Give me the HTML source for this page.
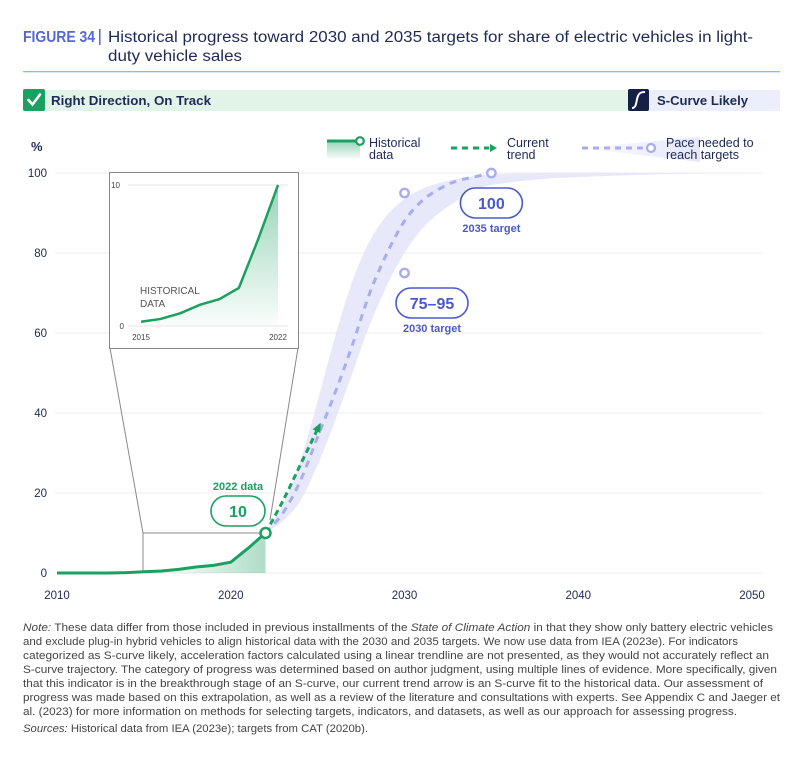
<!DOCTYPE html>
<html><head><meta charset="utf-8">
<style>
html,body{margin:0;padding:0;background:#fff;}
svg{display:block;font-family:"Liberation Sans",sans-serif;}
</style></head>
<body>
<svg id="chart" width="800" height="762" viewBox="0 0 800 762" xmlns="http://www.w3.org/2000/svg">
<defs>
<linearGradient id="gfill" x1="0" y1="0" x2="0" y2="1">
<stop offset="0" stop-color="#1aa060" stop-opacity="0.45"/>
<stop offset="1" stop-color="#1aa060" stop-opacity="0.02"/>
</linearGradient>
<linearGradient id="gfillH" x1="0" y1="0" x2="1" y2="0">
<stop offset="0" stop-color="#1aa060" stop-opacity="0"/>
<stop offset="0.6" stop-color="#1aa060" stop-opacity="0.08"/>
<stop offset="1" stop-color="#1aa060" stop-opacity="0.35"/>
</linearGradient>
<linearGradient id="legBand" x1="0" y1="0" x2="1" y2="0">
<stop offset="0" stop-color="#dfe1f9" stop-opacity="0.1"/>
<stop offset="1" stop-color="#dfe1f9" stop-opacity="0.8"/>
</linearGradient>
</defs>

<!-- Title -->
<text x="23" y="42" font-size="15.5" font-weight="bold" fill="#5766d6" textLength="72" lengthAdjust="spacingAndGlyphs">FIGURE 34</text>
<rect x="99" y="29" width="1.5" height="16" fill="#5766d6"/>
<text font-size="15.5" fill="#1e2a55">
<tspan x="108" y="42" textLength="645" lengthAdjust="spacingAndGlyphs">Historical progress toward 2030 and 2035 targets for share of electric vehicles in light-</tspan>
<tspan x="108" y="61" textLength="134" lengthAdjust="spacingAndGlyphs">duty vehicle sales</tspan>
</text>
<rect x="23" y="71" width="757" height="1.3" fill="#8db8ea"/>

<!-- Status bar -->
<rect x="23" y="90" width="757" height="21" fill="#e2f3e9"/>
<rect x="23" y="89" width="22" height="22" rx="2" fill="#1aa060"/>
<path d="M28.5 100 L32.5 104.5 L40 94.5" stroke="#fff" stroke-width="2.6" fill="none" stroke-linecap="round"/>
<text x="51" y="105" font-size="13" font-weight="bold" fill="#1e2a55" textLength="160" lengthAdjust="spacingAndGlyphs">Right Direction, On Track</text>
<rect x="628" y="90" width="152" height="21" fill="#eceefb"/>
<rect x="628" y="89" width="21" height="22" rx="2" fill="#152046"/>
<path d="M632 108 C637 108 636 100 638 96 C639 93 641 92 645 92" stroke="#fff" stroke-width="2" fill="none"/>
<text x="657" y="105" font-size="13" font-weight="bold" fill="#1e2a55" textLength="91" lengthAdjust="spacingAndGlyphs">S-Curve Likely</text>

<!-- Legend -->
<g>
<g>
<rect x="327" y="141" width="33" height="18" fill="url(#gfill)"/>
<line x1="327" y1="141" x2="357" y2="141" stroke="#1aa060" stroke-width="3"/>
<circle cx="360" cy="141" r="3.8" fill="#fff" stroke="#1aa060" stroke-width="2.2"/>
<text x="369" y="147" font-size="12.5" fill="#1e2a55">Historical</text>
<text x="369" y="159" font-size="12.5" fill="#1e2a55">data</text>
</g>
<g>
<line x1="451" y1="148" x2="489" y2="148" stroke="#1aa060" stroke-width="3" stroke-dasharray="6,5"/>
<path d="M490 144 L497 148 L490 152 Z" fill="#1aa060"/>
<text x="507" y="147" font-size="12.5" fill="#1e2a55">Current</text>
<text x="507" y="159" font-size="12.5" fill="#1e2a55">trend</text>
</g>
<g>
<path d="M578 148 L700 137 L700 162 Z" fill="url(#legBand)"/>
<line x1="582" y1="148" x2="645" y2="148" stroke="#a9aeea" stroke-width="3" stroke-dasharray="6,5"/>
<circle cx="651" cy="148" r="4" fill="#fff" stroke="#a9aeea" stroke-width="2.2"/>
<text x="666" y="147" font-size="12.5" fill="#1e2a55">Pace needed to</text>
<text x="666" y="159" font-size="12.5" fill="#1e2a55">reach targets</text>
</g>
</g>

<text x="31" y="151" font-size="13" font-weight="bold" fill="#1e2a55">%</text>

<g id="grid"></g>
<g id="marks"></g>

<!-- Note -->
<g font-size="11" fill="#444">
<text x="23" y="631" textLength="750" lengthAdjust="spacingAndGlyphs"><tspan font-style="italic">Note:</tspan> These data differ from those included in previous installments of the <tspan font-style="italic">State of Climate Action</tspan> in that they show only battery electric vehicles</text>
<text x="23" y="645" textLength="715" lengthAdjust="spacingAndGlyphs">and exclude plug-in hybrid vehicles to align historical data with the 2030 and 2035 targets. We now use data from IEA (2023e). For indicators</text>
<text x="23" y="659" textLength="746" lengthAdjust="spacingAndGlyphs">categorized as S-curve likely, acceleration factors calculated using a linear trendline are not presented, as they would not accurately reflect an</text>
<text x="23" y="673" textLength="754" lengthAdjust="spacingAndGlyphs">S-curve trajectory. The category of progress was determined based on author judgment, using multiple lines of evidence. More specifically, given</text>
<text x="23" y="687" textLength="740" lengthAdjust="spacingAndGlyphs">that this indicator is in the breakthrough stage of an S-curve, our current trend arrow is an S-curve fit to the historical data. Our assessment of</text>
<text x="23" y="701" textLength="757" lengthAdjust="spacingAndGlyphs">progress was made based on this extrapolation, as well as a review of the literature and consultations with experts. See Appendix C and Jaeger et</text>
<text x="23" y="715" textLength="714" lengthAdjust="spacingAndGlyphs">al. (2023) for more information on methods for selecting targets, indicators, and datasets, as well as our approach for assessing progress.</text>
<text x="23" y="732" textLength="345" lengthAdjust="spacingAndGlyphs"><tspan font-style="italic">Sources:</tspan> Historical data from IEA (2023e); targets from CAT (2020b).</text>
</g>

<script>
const histYears = [2010,2011,2012,2013,2014,2015,2016,2017,2018,2019,2020,2021,2022];
const histValues = [0,0,0,0,0.1,0.3,0.5,0.9,1.5,1.9,2.7,6.2,10];
const trendYears = [2022,2023,2024,2025];
const trendValues = [10,18,27,36];
const paceYears = [2022,2023,2024,2025,2026,2027,2028,2029,2030,2031,2032,2033,2034,2035];
const paceValues = [10,15,23,34,45,57,70,80,88,93,96,98,99,100];
const bandYears = [2022,2023,2024,2025,2026,2027,2028,2029,2030,2031,2032,2033,2034,2035,2038,2042,2046,2050];
const bandUpper = [10,17,28,43,59,73,83,89.5,93.5,96,97.5,98.5,99.2,99.6,100,100,100,100];
const bandLower = [10,13,18,27,38,50,62,72,80,86,90,93,95.5,97,98.5,99.3,99.8,100];
const targetYears = [2030,2030,2035];
const targetValues = [75,95,100];
const yTicks = [0,20,40,60,80,100];
const xTicks = [2010,2020,2030,2040,2050];
const insetYTicks = [0,10];
const insetXTicks = [2015,2022];

const NS = "http://www.w3.org/2000/svg";
const xS = y => 57 + (y - 2010) * (752 - 57) / 40;
const yS = v => 573 - v * 4;
const ixS = y => 141 + (y - 2015) * (278 - 141) / 7;
const iyS = v => 326 - v * (326 - 185) / 10;

function mk(tag, attrs, parent, text) {
  const e = document.createElementNS(NS, tag);
  for (const k in attrs) e.setAttribute(k, attrs[k]);
  if (text !== undefined) e.textContent = text;
  parent.appendChild(e);
  return e;
}
function smooth(pts) {
  let d = "M" + pts[0][0] + " " + pts[0][1];
  for (let i = 0; i < pts.length - 1; i++) {
    const p0 = pts[Math.max(0, i - 1)], p1 = pts[i], p2 = pts[i + 1], p3 = pts[Math.min(pts.length - 1, i + 2)];
    const c1x = p1[0] + (p2[0] - p0[0]) / 6, c1y = p1[1] + (p2[1] - p0[1]) / 6;
    const c2x = p2[0] - (p3[0] - p1[0]) / 6, c2y = p2[1] - (p3[1] - p1[1]) / 6;
    d += " C" + c1x + " " + c1y + " " + c2x + " " + c2y + " " + p2[0] + " " + p2[1];
  }
  return d;
}

const grid = document.getElementById("grid");
const marks = document.getElementById("marks");

yTicks.forEach(t => {
  const gl = mk("line", {x1: 55, x2: 762, y1: yS(t), y2: yS(t), stroke: "#ececec", "stroke-width": 1}, grid);
  
  
  const tl = mk("text", {x: 47, y: yS(t) + 4, "text-anchor": "end", "font-size": 11.5, fill: "#1e2a55"}, grid, String(t));
  
  
});
xTicks.forEach(t => {
  const tl = mk("text", {x: xS(t), y: 599, "text-anchor": "middle", "font-size": 11.5, fill: "#1e2a55"}, grid, String(t));
  
  
});

// band
const upPts = bandYears.map((y, i) => [xS(y), yS(bandUpper[i])]);
const loPts = bandYears.map((y, i) => [xS(y), yS(bandLower[i])]).reverse();
const bandD = smooth(upPts) + " L" + loPts[0][0] + " " + loPts[0][1] + smooth(loPts).replace(/^M[^C]*/, "") + " Z";
const band = mk("path", {d: bandD, fill: "#e4e6fa", opacity: 0.9}, marks);



// pace dashed
const pace = mk("path", {d: smooth(paceYears.map((y, i) => [xS(y), yS(paceValues[i])])), fill: "none", stroke: "#a9aeea", "stroke-width": 3, "stroke-dasharray": "7,6"}, marks);



// zoom funnel
const funnel = mk("path", {d: "M110 348 L143 533 L143 573 M298 348 L270 520 M143 533 L268 533", fill: "none", stroke: "#888", "stroke-width": 1}, marks);



// historical fill + line
const hp = histYears.map((y, i) => [xS(y), yS(histValues[i])]);
const fillD = "M" + hp.map(p => p[0] + " " + p[1]).join(" L") + " L" + xS(2022) + " " + yS(0) + " L" + xS(2010) + " " + yS(0) + " Z";
const hf = mk("path", {d: fillD, fill: "url(#gfillH)"}, marks);


const hl = mk("path", {d: "M" + hp.map(p => p[0] + " " + p[1]).join(" L"), fill: "none", stroke: "#1aa060", "stroke-width": 3, "stroke-linejoin": "round"}, marks);



// trend arrow
const tp = trendYears.map((y, i) => [xS(y), yS(trendValues[i])]);
const tl = mk("path", {d: smooth(tp), fill: "none", stroke: "#1aa060", "stroke-width": 3, "stroke-dasharray": "6,4"}, marks);


const last = tp[tp.length - 1], prev = tp[tp.length - 2];
const ang = Math.atan2(last[1] - prev[1], last[0] - prev[0]);
const ah = [[last[0] + 7 * Math.cos(ang), last[1] + 7 * Math.sin(ang)],
  [last[0] + 5 * Math.cos(ang + 2.1), last[1] + 5 * Math.sin(ang + 2.1)],
  [last[0] + 5 * Math.cos(ang - 2.1), last[1] + 5 * Math.sin(ang - 2.1)]];
const arrow = mk("path", {d: "M" + ah.map(p => p.join(" ")).join(" L") + " Z", fill: "#1aa060"}, marks);



// 2022 point
const lastI = histYears.length - 1;
const pt = mk("circle", {cx: xS(histYears[lastI]), cy: yS(histValues[lastI]), r: 5, fill: "#fff", stroke: "#1aa060", "stroke-width": 2.5}, marks);



// targets
targetYears.forEach((y, i) => {
  const c = mk("circle", {cx: xS(y), cy: yS(targetValues[i]), r: 4.2, fill: "#fff", stroke: "#a9aeea", "stroke-width": 2.4}, marks);
  
  
});

function pill(cx, cy, w, label, color, name) {
  const g = mk("g", {}, marks);
  
  
  mk("rect", {x: cx - w / 2, y: cy - 15, width: w, height: 30, rx: 15, fill: "#fff", stroke: color, "stroke-width": 1.6}, g);
  mk("text", {x: cx, y: cy + 6, "text-anchor": "middle", "font-size": 16, "font-weight": "bold", fill: color}, g, label);
  return g;
}
pill(xS(2035), 203, 62, "100", "#4a58cf", "target-2035-label");
mk("text", {x: xS(2035), y: 232, "text-anchor": "middle", "font-size": 11, "font-weight": "bold", fill: "#4a58cf"}, marks, "2035 target");
pill(432, 303, 72, "75–95", "#4a58cf", "target-2030-label");
mk("text", {x: 432, y: 332, "text-anchor": "middle", "font-size": 11, "font-weight": "bold", fill: "#4a58cf"}, marks, "2030 target");
pill(238, 511, 54, "10", "#1aa060", "data-2022-label");
mk("text", {x: 238, y: 490, "text-anchor": "middle", "font-size": 11, "font-weight": "bold", fill: "#1aa060"}, marks, "2022 data");

// inset
const inset = mk("g", {}, marks);


mk("rect", {x: 109.5, y: 172.5, width: 189, height: 176, fill: "#fff", stroke: "#888", "stroke-width": 1}, inset);
insetYTicks.forEach(t => {
  mk("line", {x1: 128, x2: 288, y1: iyS(t), y2: iyS(t), stroke: "#e6e6e6"}, inset);
  mk("text", {x: t === 0 ? 124 : 120, y: iyS(t) + 3, "text-anchor": "end", "font-size": 8, fill: "#444"}, inset, String(t));
});
insetXTicks.forEach(t => {
  mk("text", {x: ixS(t), y: 340, "text-anchor": "middle", "font-size": 8, fill: "#444"}, inset, String(t));
});
const ip = histYears.map((y, i) => [y, histValues[i]]).filter(p => p[0] >= 2015).map(p => [ixS(p[0]), iyS(p[1])]);
mk("path", {d: "M" + ip.map(p => p.join(" ")).join(" L") + " L" + ixS(2022) + " " + iyS(0) + " L" + ixS(2015) + " " + iyS(0) + " Z", fill: "url(#gfill)"}, inset);
mk("path", {d: "M" + ip.map(p => p.join(" ")).join(" L"), fill: "none", stroke: "#1aa060", "stroke-width": 2.5, "stroke-linejoin": "round"}, inset);
mk("text", {x: 140, y: 294, "font-size": 10, fill: "#555"}, inset, "HISTORICAL");
mk("text", {x: 140, y: 307, "font-size": 10, fill: "#555"}, inset, "DATA");
</script>
</svg>
</body></html>
